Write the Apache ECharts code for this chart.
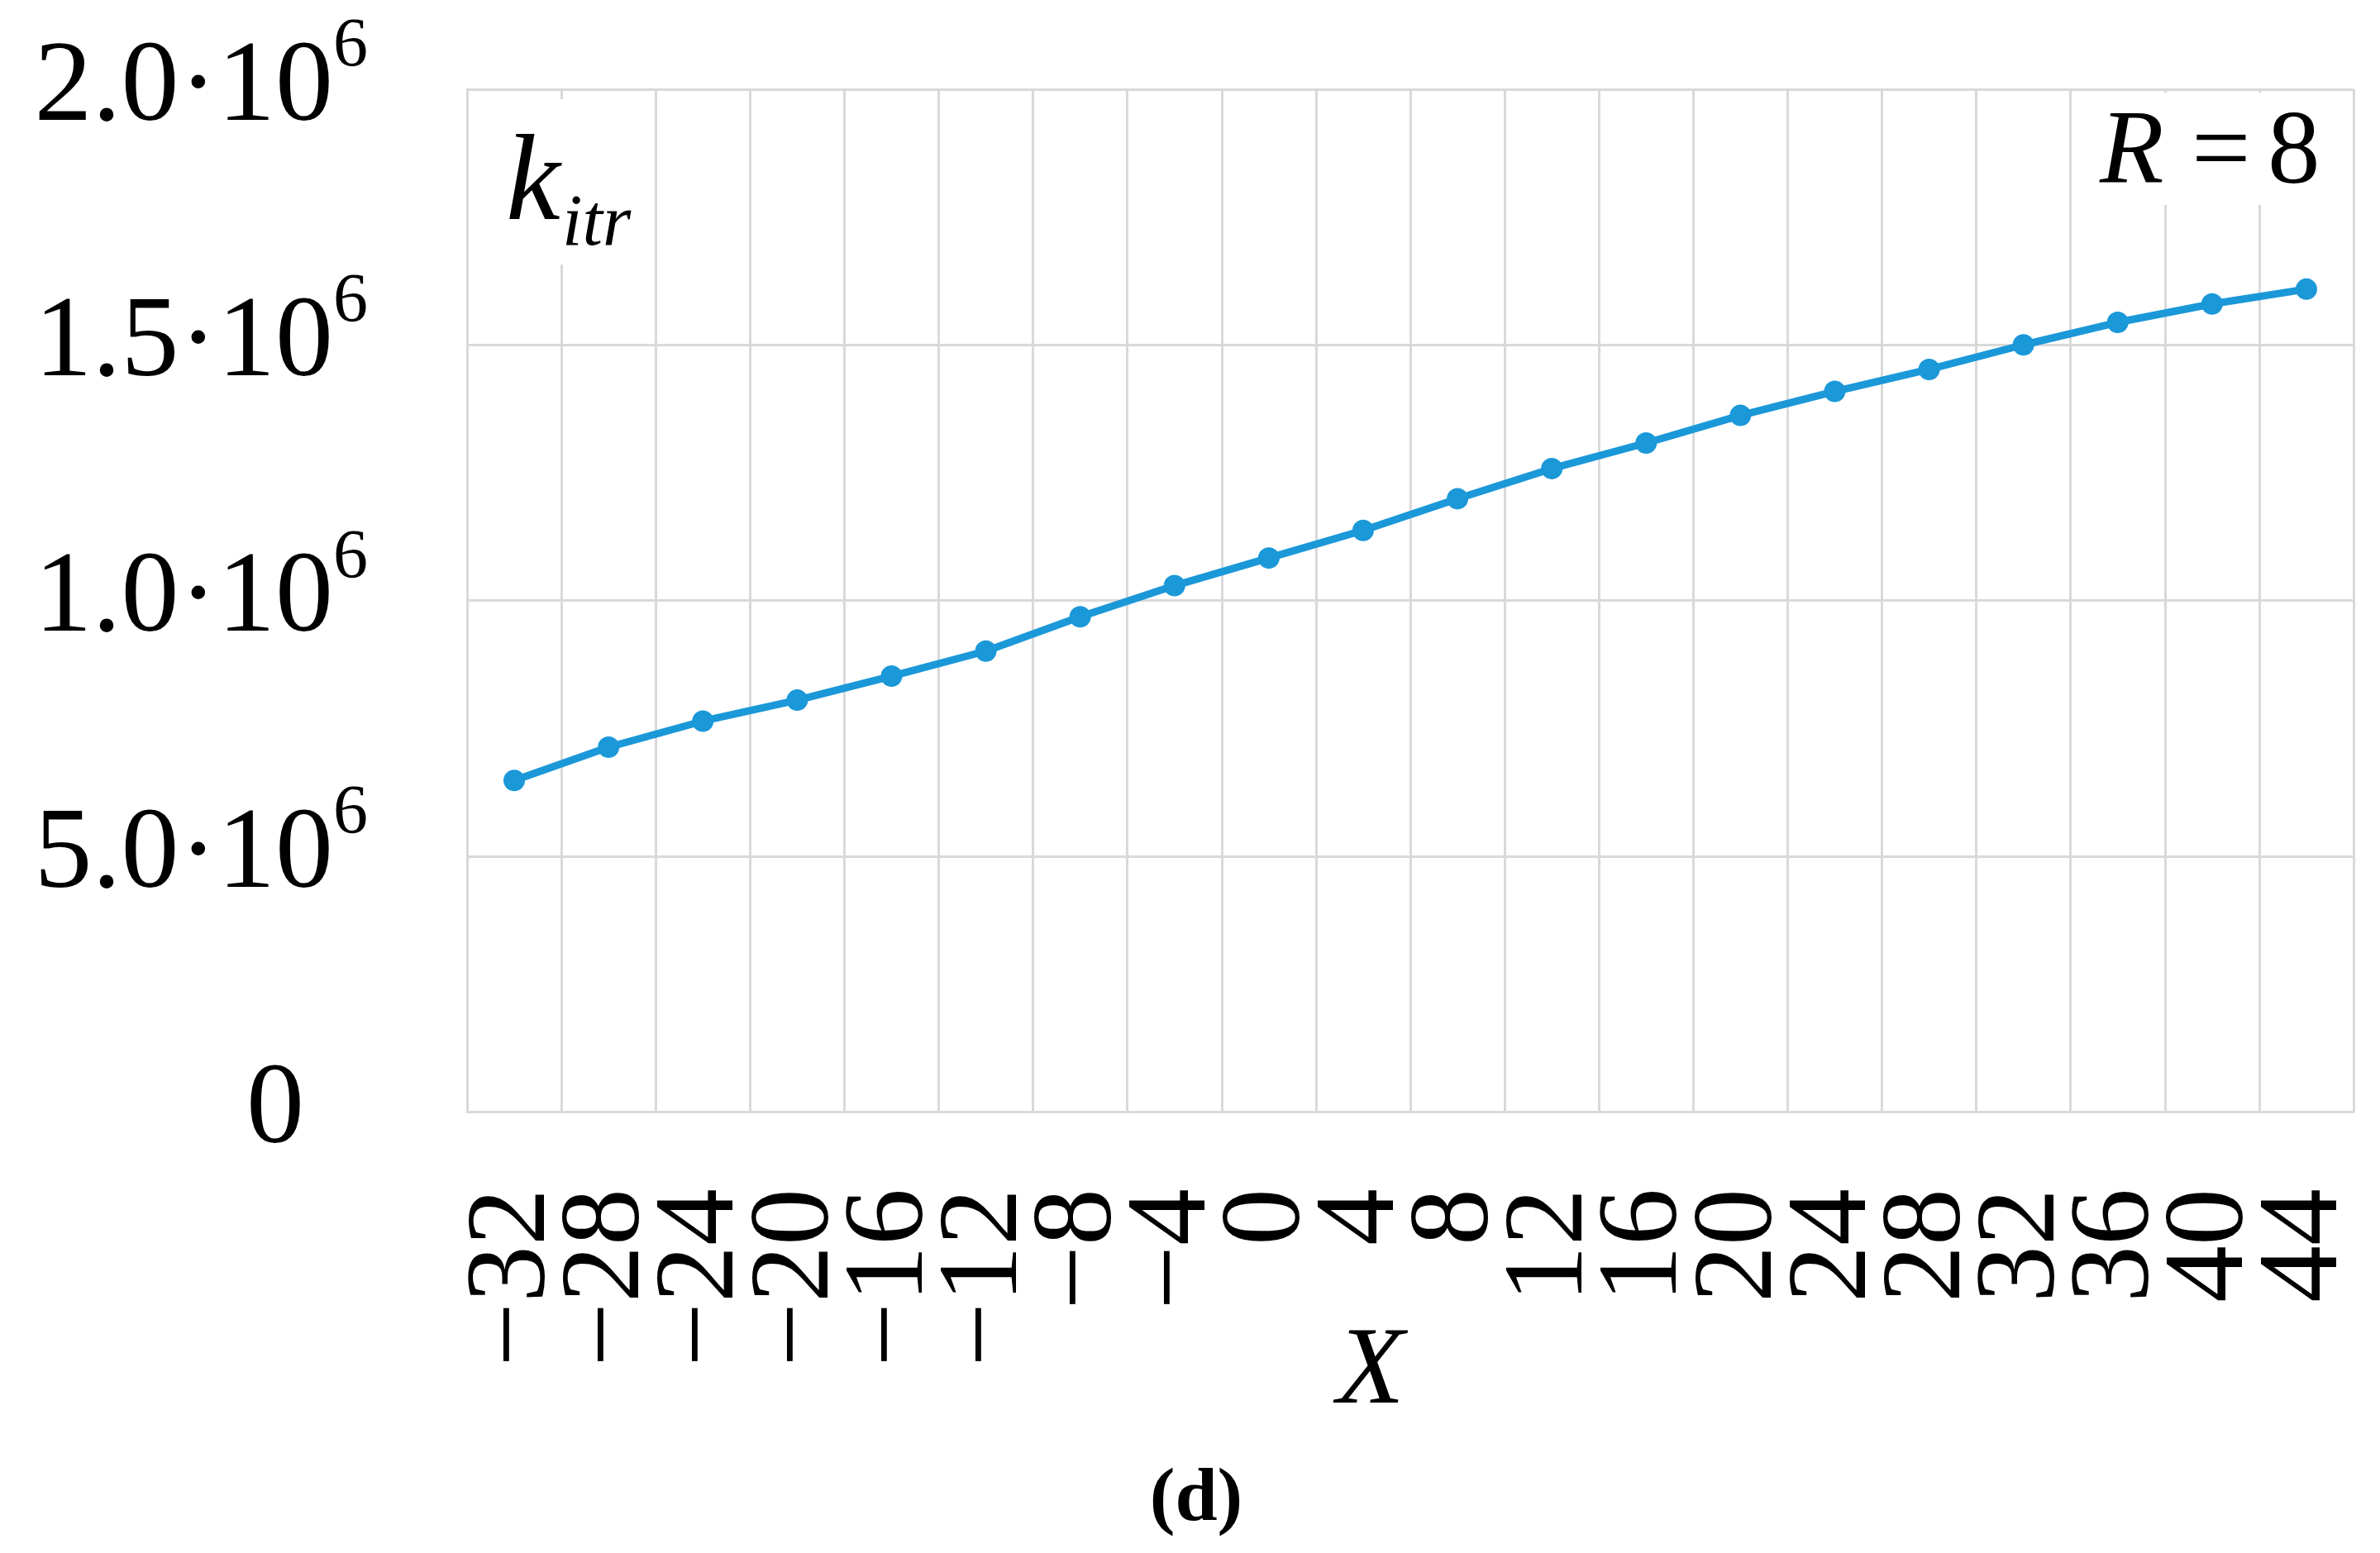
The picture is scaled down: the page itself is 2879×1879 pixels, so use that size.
<!DOCTYPE html>
<html>
<head>
    <meta charset="UTF-8">
    <title>k_itr vs X, R = 8</title>
    <script src="https://cdn.jsdelivr.net/npm/echarts/dist/echarts.min.js"></script>
    <style>
        html, body { margin: 0; padding: 0; background: #fff; }
        #main { width: 2879px; height: 1879px; }
    </style>
</head>
<body>
    <div id="main"></div>

    <script>
        // ========== data ==========
        const xValues = ['−32', '−28', '−24', '−20', '−16', '−12', '−8', '−4', '0', '4',
                         '8', '12', '16', '20', '24', '28', '32', '36', '40', '44'];
        const kItr = [648000, 713000, 764000, 805000, 852000, 901000, 968000, 1029000, 1083000, 1137000,
                      1199000, 1258000, 1308000, 1362000, 1409000, 1452000, 1500000, 1544000, 1580000, 1609000];
        // tick labels as printed in the figure (mantissa part, exponent drawn as superscript)
        const yTickValues = [0, 500000, 1000000, 1500000, 2000000];
        const yTickMantissa = ['0', '5.0·10', '1.0·10', '1.5·10', '2.0·10'];
        const yTickExponent = ['', '6', '6', '6', '6'];
        // ==========================

        const serif = '"Liberation Serif", "Times New Roman", serif';
        const gridColor = '#d9d9d9';
        const lineColor = '#1b98d8';

        const chart = echarts.init(document.getElementById('main'));
        const option = {
            animation: false,
            backgroundColor: '#fff',
            grid: { left: 565, right: 32, top: 108, bottom: 534, containLabel: false },
            xAxis: {
                type: 'category',
                data: xValues,
                boundaryGap: true,
                name: 'X',
                nameLocation: 'middle',
                nameGap: 250,
                nameMoveOverlap: false,
                nameTextStyle: {
                    fontFamily: serif, fontStyle: 'italic', fontSize: 134, color: '#000',
                    padding: [0, 96, 0, 0]
                },
                axisLine: { show: true, lineStyle: { color: gridColor, width: 3 } },
                axisTick: { show: false },
                axisLabel: {
                    interval: 0, rotate: 90, margin: 93,
                    fontFamily: serif, fontSize: 138, color: '#000'
                },
                splitLine: { show: true, interval: 0, lineStyle: { color: gridColor, width: 3 } }
            },
            yAxis: {
                type: 'value',
                min: 0, max: 2000000, interval: 500000,
                axisLine: { show: true, lineStyle: { color: gridColor, width: 3 } },
                axisTick: { show: false },
                axisLabel: {
                    margin: 120,
                    formatter: function (v) {
                        const i = yTickValues.indexOf(v);
                        if (i < 0) return '';
                        if (!yTickExponent[i]) return '{z|' + yTickMantissa[i] + '}';
                        return '{a|' + yTickMantissa[i] + '}{e|' + yTickExponent[i] + '}';
                    },
                    rich: {
                        a: { fontFamily: serif, fontSize: 140, lineHeight: 140, verticalAlign: 'middle', color: '#000' },
                        e: { fontFamily: serif, fontSize: 84, height: 40, lineHeight: 40, verticalAlign: 'top', color: '#000' },
                        z: { fontFamily: serif, fontSize: 140, lineHeight: 140, color: '#000', padding: [0, 77, 0, 0] }
                    }
                },
                splitLine: { show: true, lineStyle: { color: gridColor, width: 3 } }
            },
            series: [{
                type: 'line',
                data: kItr,
                symbol: 'circle',
                symbolSize: 26,
                showSymbol: true,
                lineStyle: { color: lineColor, width: 9 },
                itemStyle: { color: lineColor }
            }],
            graphic: [
                { type: 'rect', z: 10, shape: { x: 600, y: 120, width: 185, height: 200 }, style: { fill: '#fff' } },
                { type: 'text', z: 11, style: { text: 'k', x: 612, y: 226, verticalAlign: 'middle',
                    font: 'italic 148px ' + serif, fill: '#000' } },
                { type: 'text', z: 11, style: { text: 'itr', x: 680, y: 273, verticalAlign: 'middle',
                    font: 'italic 88px ' + serif, fill: '#000' } },
                { type: 'rect', z: 10, shape: { x: 2515, y: 112, width: 325, height: 136 }, style: { fill: '#fff' } },
                { type: 'text', z: 11, style: { text: 'R', x: 2540, y: 188, verticalAlign: 'middle',
                    font: 'italic 127px ' + serif, fill: '#000' } },
                { type: 'text', z: 11, style: { text: '=', x: 2651, y: 188, verticalAlign: 'middle',
                    font: '127px ' + serif, fill: '#000' } },
                { type: 'text', z: 11, style: { text: '8', x: 2743, y: 188, verticalAlign: 'middle',
                    font: '127px ' + serif, fill: '#000' } },
                { type: 'text', z: 11, style: { text: '(d)', x: 1447, y: 1815, align: 'center', verticalAlign: 'middle',
                    font: 'bold 92px ' + serif, fill: '#000' } }
            ]
        };

        chart.setOption(option);
    </script>
</body>
</html>
